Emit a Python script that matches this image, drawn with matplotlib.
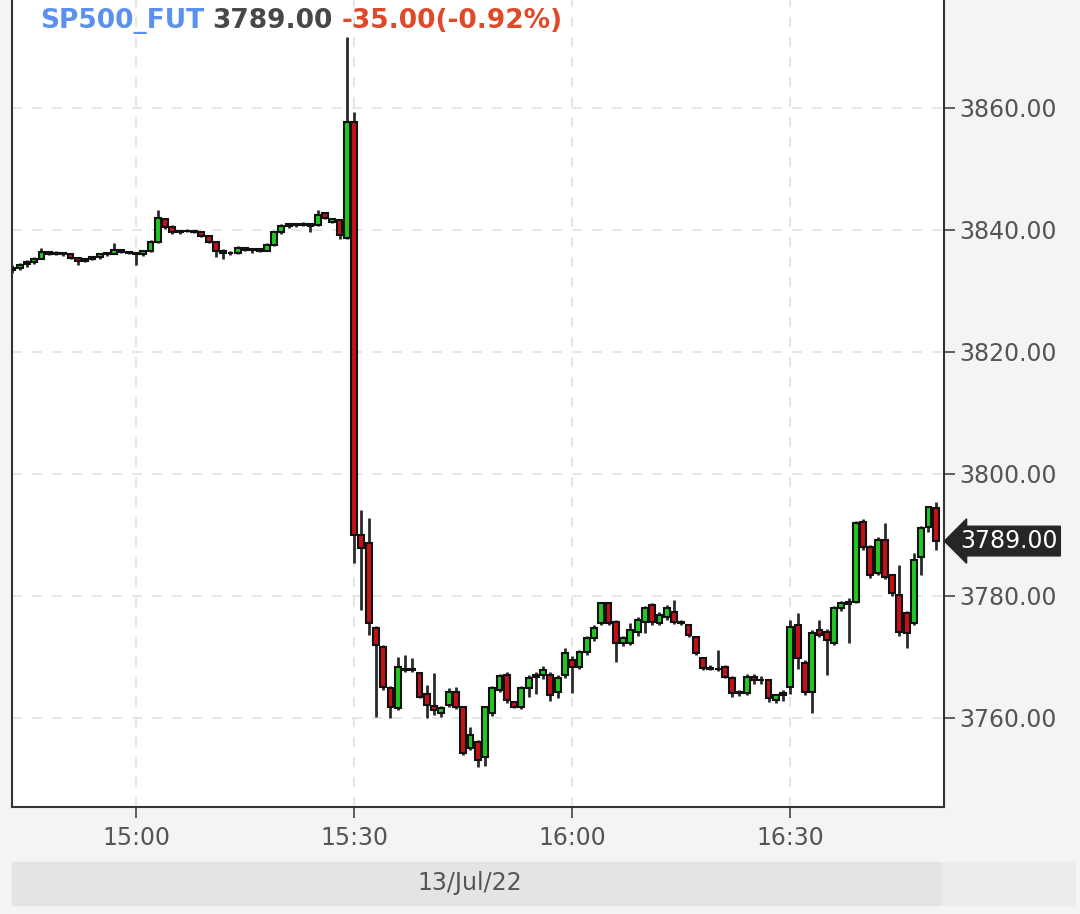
import pandas as pd
import matplotlib
matplotlib.use("Agg")
import matplotlib.pyplot as plt
import matplotlib.dates as mdates
from matplotlib.patches import Rectangle

# 1-minute candles, 13 Jul 2022, 14:43 .. 16:50
opens = [
    3833.5, 3833.8, 3834.5, 3834.8, 3835.3, 3836.4, 3836.1, 3836.2, 3836.0, 3835.4,
    3834.9, 3835.2, 3835.5, 3836.0, 3836.1, 3836.7, 3836.4,
    3836.3, 3836.0, 3836.6, 3838.0, 3841.8, 3840.5, 3839.6, 3839.8, 3839.9, 3839.6,
    3839.0, 3838.0, 3836.6, 3836.3, 3836.2, 3837.0, 3836.7, 3836.8, 3836.6, 3837.6,
    3839.6, 3840.6, 3840.9, 3840.8, 3841.0, 3840.8, 3842.7, 3841.3, 3841.6, 3838.7,
    3857.7, 3790.0, 3788.7, 3774.8, 3771.6, 3764.9, 3761.6, 3768.0, 3767.9, 3767.4,
    3764.0, 3762.0, 3760.8, 3762.1, 3764.3, 3761.8, 3755.1, 3756.1, 3753.6, 3760.8,
    3764.6, 3767.1, 3762.6, 3761.8, 3764.9, 3766.7, 3767.1, 3767.1, 3764.3, 3767.1,
    3769.5, 3768.4, 3770.8, 3773.1, 3775.6, 3778.9, 3775.7, 3772.3, 3772.3, 3774.1,
    3775.7, 3778.5, 3775.6, 3776.6, 3777.4, 3775.7, 3775.2, 3773.3, 3769.8, 3768.2,
    3768.0, 3768.4, 3766.6, 3764.1, 3764.1, 3766.7, 3766.3, 3766.2, 3762.9, 3763.8,
    3765.1, 3775.2, 3769.0, 3764.3, 3774.4, 3774.1, 3772.3, 3778.0, 3778.6, 3779.0,
    3792.1, 3788.0, 3783.8, 3789.2, 3783.4, 3780.2, 3777.2, 3775.6, 3786.4, 3791.3,
    3794.4,
]
highs = [
    3834.2, 3834.6, 3835.0, 3835.5, 3837.0, 3836.6, 3836.5, 3836.4, 3836.1, 3835.5,
    3835.4, 3835.7, 3836.1, 3836.4, 3837.8, 3836.8, 3836.6,
    3836.4, 3836.7, 3838.3, 3843.3, 3842.0, 3840.8, 3840.0, 3840.1, 3840.0, 3839.7,
    3839.2, 3838.2, 3836.8, 3836.6, 3837.3, 3837.2, 3837.0, 3837.1, 3837.9, 3839.9,
    3841.0, 3841.1, 3841.2, 3841.3, 3841.2, 3843.3, 3843.0, 3842.0, 3841.8, 3871.6,
    3859.3, 3794.1, 3792.8, 3775.0, 3772.0, 3765.2, 3770.0, 3770.3, 3769.8, 3767.6,
    3765.4, 3767.4, 3761.9, 3764.9, 3765.1, 3762.0, 3758.5, 3756.4, 3762.0, 3765.2,
    3767.2, 3767.5, 3762.8, 3765.2, 3767.0, 3767.5, 3768.5, 3767.5, 3767.0, 3771.5,
    3770.2, 3771.2, 3773.4, 3775.2, 3778.9, 3778.9, 3776.0, 3773.5, 3775.6, 3776.6,
    3778.4, 3778.8, 3777.3, 3778.5, 3779.4, 3776.0, 3775.4, 3773.5, 3770.0, 3768.6,
    3771.1, 3768.6, 3766.8, 3764.6, 3767.2, 3767.2, 3766.8, 3766.4, 3764.0, 3764.5,
    3776.1, 3777.2, 3769.5, 3774.4, 3776.1, 3774.6, 3778.3, 3779.2, 3779.6, 3792.3,
    3792.6, 3788.3, 3789.6, 3792.0, 3783.6, 3785.1, 3777.5, 3787.0, 3791.4, 3794.8,
    3795.4,
]
lows = [
    3833.0, 3833.5, 3834.0, 3834.5, 3835.2, 3835.9, 3835.9, 3835.8, 3835.2, 3834.3,
    3834.7, 3835.0, 3835.3, 3835.8, 3836.0, 3836.2, 3836.1,
    3834.3, 3835.8, 3836.4, 3837.8, 3840.2, 3839.3, 3839.4, 3839.6, 3839.5, 3838.8,
    3837.8, 3835.5, 3835.3, 3835.9, 3836.1, 3836.5, 3836.3, 3836.4, 3836.5, 3837.4,
    3839.4, 3840.4, 3840.5, 3840.6, 3839.6, 3840.6, 3841.8, 3841.1, 3838.5, 3838.5,
    3785.4, 3777.7, 3773.6, 3760.2, 3764.5, 3760.0, 3761.3, 3767.5, 3767.5, 3763.2,
    3760.0, 3760.5, 3760.2, 3761.8, 3761.5, 3754.0, 3754.8, 3752.0, 3752.2, 3760.3,
    3764.2, 3762.4, 3761.6, 3761.5, 3763.5, 3764.0, 3766.4, 3762.8, 3763.2, 3766.5,
    3764.1, 3768.0, 3770.3, 3772.6, 3775.2, 3775.2, 3769.2, 3771.8, 3772.0, 3773.5,
    3774.0, 3775.3, 3775.2, 3776.0, 3775.4, 3775.2, 3773.3, 3770.3, 3767.9, 3767.8,
    3767.7, 3766.5, 3763.5, 3763.6, 3763.8, 3765.6, 3765.5, 3762.6, 3762.5, 3762.8,
    3764.0, 3768.0, 3763.8, 3760.8, 3773.3, 3767.1, 3772.0, 3777.6, 3772.3, 3778.8,
    3787.6, 3783.0, 3783.5, 3782.8, 3780.0, 3773.5, 3771.5, 3775.3, 3783.4, 3790.5,
    3787.5,
]
closes = [
    3833.8, 3834.3, 3834.8, 3835.2, 3836.4, 3836.1, 3836.2, 3836.0, 3835.4, 3834.9,
    3835.2, 3835.5, 3836.0, 3836.2, 3836.7, 3836.4, 3836.3,
    3836.0, 3836.5, 3838.0, 3842.0, 3840.5, 3839.6, 3839.8, 3839.9, 3839.6, 3839.0,
    3838.0, 3836.6, 3836.3, 3836.2, 3837.0, 3836.7, 3836.8, 3836.6, 3837.6, 3839.6,
    3840.6, 3840.9, 3840.8, 3841.0, 3840.7, 3842.5, 3842.0, 3841.8, 3839.2, 3857.7,
    3790.0, 3787.9, 3775.6, 3772.0, 3765.1, 3761.8, 3768.4, 3767.9, 3768.0, 3763.4,
    3762.1, 3761.3, 3761.6, 3764.3, 3761.8, 3754.3, 3757.2, 3753.1, 3761.8, 3764.9,
    3766.9, 3762.9, 3761.8, 3764.9, 3766.6, 3767.1, 3767.8, 3763.8, 3766.6, 3770.6,
    3768.4, 3770.8, 3773.1, 3774.8, 3778.9, 3775.6, 3772.3, 3773.1, 3774.4, 3776.1,
    3778.0, 3775.7, 3776.9, 3778.0, 3775.7, 3775.6, 3773.6, 3770.6, 3768.2, 3768.0,
    3768.1, 3766.7, 3764.1, 3764.2, 3766.7, 3766.3, 3766.2, 3763.3, 3763.8, 3764.1,
    3774.9, 3769.8, 3764.3, 3773.9, 3773.6, 3772.8, 3778.0, 3778.9, 3779.0, 3792.0,
    3788.0, 3783.4, 3789.2, 3783.1, 3780.5, 3774.1, 3773.9, 3785.9, 3791.2, 3794.6,
    3789.0,
]

symbol = "SP500_FUT"
last_price = "3789.00"
change_text = "-35.00(-0.92%)"
date_text = "13/Jul/22"
y_ticks = [3760, 3780, 3800, 3820, 3840, 3860]

times = pd.date_range("2022-07-13 14:43", periods=len(closes), freq="min")
df = pd.DataFrame({"open": opens, "high": highs, "low": lows, "close": closes}, index=times)
x = mdates.date2num(df.index.to_pydatetime())
minute = 1.0 / 1440

up = df["close"] >= df["open"]
colors = ["#22c822" if u else "#c41219" for u in up]

fig = plt.figure(figsize=(10.8, 9.14), dpi=100, facecolor="#f3f4f6")
ax = fig.add_axes([12 / 1080, 107 / 914, 932 / 1080, 807 / 914])
ax.set_facecolor("white")

# wicks and bodies
ax.vlines(x, df["low"], df["high"], color="#2a2a2a", linewidth=2.0, zorder=2)
ax.bar(x, (df["close"] - df["open"]).abs(), bottom=df[["open", "close"]].min(axis=1),
       width=minute * 0.8, color=colors, edgecolor="#111111", linewidth=1.5, zorder=3)

ax.set_xlim(mdates.date2num(pd.Timestamp("2022-07-13 14:42:57")),
            mdates.date2num(pd.Timestamp("2022-07-13 16:51:08")))
ax.set_ylim(3745.4, 3877.7)

ax.xaxis.set_major_locator(mdates.MinuteLocator(byminute=[0, 30]))
ax.xaxis.set_major_formatter(mdates.DateFormatter("%H:%M"))
ax.set_yticks(y_ticks)
ax.set_yticklabels([f"{v:.2f}" for v in y_ticks])
ax.yaxis.tick_right()

ax.grid(True, color="#e2e2e2", linestyle=(0, (6, 6)), linewidth=1.2, zorder=0)
ax.tick_params(axis="y", direction="out", length=8, width=1.2, color="#444444",
               labelsize=17, labelcolor="#555555", pad=3)
ax.tick_params(axis="x", direction="out", length=8, width=1.2, color="#444444",
               labelsize=17, labelcolor="#555555", pad=6)
for side in ["left", "right", "bottom"]:
    ax.spines[side].set_color("#333333")
    ax.spines[side].set_linewidth(1.5)
ax.spines["top"].set_visible(False)

# header texts
t1 = fig.text(40 / 1080, 1 - 21 / 914, symbol, color="#5b8ff0", fontsize=19,
              fontweight="bold", va="center", ha="left")
t2 = ax.annotate(last_price, xy=(1, 0.5), xycoords=t1, xytext=(8, 0),
                 textcoords="offset pixels", color="#474747", fontsize=19,
                 fontweight="bold", va="center", ha="left")
ax.annotate(change_text, xy=(1, 0.5), xycoords=t2, xytext=(9, 0),
            textcoords="offset pixels", color="#e0482a", fontsize=19,
            fontweight="bold", va="center", ha="left")

# last price marker
ax.annotate(last_price, xy=(1, df["close"].iloc[-1]),
            xycoords=ax.get_yaxis_transform(), xytext=(16, 0),
            textcoords="offset pixels", color="white", fontsize=17,
            va="center", ha="left", annotation_clip=False, zorder=10,
            bbox=dict(boxstyle="larrow,pad=0.12", fc="#262626", ec="#262626"))

# date band
fig.add_artist(Rectangle((940 / 1080, 9 / 914), 135 / 1080, 43 / 914,
                         transform=fig.transFigure, color="#ebecee", zorder=0))
fig.add_artist(Rectangle((12 / 1080, 9 / 914), 928 / 1080, 43 / 914,
                         transform=fig.transFigure, color="#e3e4e6", zorder=0))
fig.text(470 / 1080, 31 / 914, date_text, color="#555555", fontsize=17,
         ha="center", va="center")

fig.savefig("out.png", dpi=100, facecolor=fig.get_facecolor())
